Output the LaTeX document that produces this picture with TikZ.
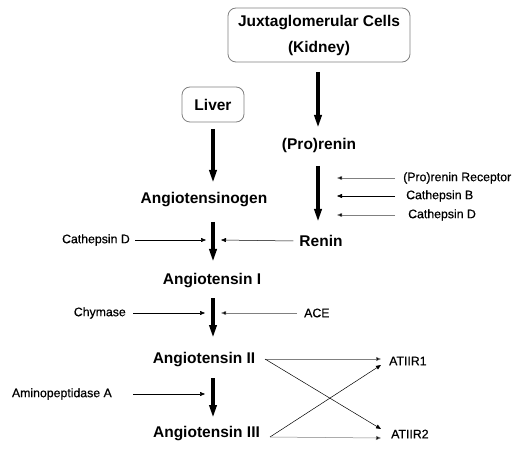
\documentclass[tikz,border=0pt]{standalone}
\usepackage{fontspec}
\setmainfont{Liberation Sans}
\newfontfamily\labelfont[FakeBold=0.6]{Liberation Sans}
\usetikzlibrary{arrows.meta}
\begin{document}
\begin{tikzpicture}[x=1pt,y=-1pt,
  big/.style={font=\fontsize{15.5}{18}\selectfont\bfseries, inner sep=0pt},
  small/.style={font=\labelfont\fontsize{12.3}{14}\selectfont, inner sep=0pt},
  srcbox/.style={draw=gray, rounded corners=8pt, line width=0.8pt},
  mainarrow/.style={line width=3.6pt, -{Triangle[width=7pt,length=13pt]}},
  enz/.style={line width=0.5pt, -{Triangle[width=4pt,length=5pt]}},
  enzg/.style={enz, draw=gray, -{Triangle[width=4pt,length=5pt,fill=black]}}]
\useasboundingbox (0,0) rectangle (519,454);
% source boxes
\node[srcbox, align=center, minimum width=182pt, minimum height=54pt,
      font=\fontsize{15.5}{26}\selectfont\bfseries] (jg) at (319,35) {Juxtaglomerular Cells\\(Kidney)};
\node[srcbox, big, minimum width=62pt, minimum height=35pt] (liver) at (213,104.5) {Liver};
% substances
\node[big] (prorenin) at (319,145) {(Pro)renin};
\node[big] (renin) at (321,241) {Renin};
\node[big] (agt) at (204,200) {Angiotensinogen};
\node[big] (ang1) at (212,281) {Angiotensin I};
\node[big] (ang2) at (204,360) {Angiotensin II};
\node[big] (ang3) at (206.5,434) {Angiotensin III};
\node[small, anchor=west] (at1) at (389,361) {ATIIR1};
\node[small, anchor=west] (at2) at (391,434) {ATIIR2};
% enzymes
\node[small, anchor=west] (prr) at (403,178) {(Pro)renin Receptor};
\node[small, anchor=west] (catB) at (406,196) {Cathepsin B};
\node[small, anchor=west] (catDr) at (408,215) {Cathepsin D};
\node[small, anchor=east] (catDl) at (130,240) {Cathepsin D};
\node[small, anchor=east] (chym) at (126,313) {Chymase};
\node[small, anchor=west] (ace) at (304,313) {ACE};
\node[small, anchor=east] (amino) at (112,394) {Aminopeptidase A};
% arrow end points
\coordinate (k1) at (318,72);  \coordinate (k2) at (318,128);
\coordinate (p1) at (318,166); \coordinate (p2) at (318,222);
\coordinate (l1) at (213,129); \coordinate (l2) at (213,183);
\coordinate (g1) at (213,222); \coordinate (g2) at (213,262);
\coordinate (i1) at (213,298); \coordinate (i2) at (213,338);
\coordinate (j1) at (213,378); \coordinate (j2) at (213,418);
% main arrows
\draw[mainarrow] (k1) -- (k2);
\draw[mainarrow] (p1) -- (p2);
\draw[mainarrow] (l1) -- (l2);
\draw[mainarrow] (g1) -- (g2);
\draw[mainarrow] (i1) -- (i2);
\draw[mainarrow] (j1) -- (j2);
% enzyme arrows
\coordinate (e1) at (337,178); \coordinate (e2) at (337,196); \coordinate (e3) at (337,215);
\draw[enzg] (prr.west) ++(-8,0) -- (e1);
\draw[enz] (catB.west) ++(-11,0) -- (e2);
\draw[enzg] (catDr.west) ++(-13,0) -- (e3);
\coordinate (e4) at (206,240); \coordinate (e5) at (221,240);
\draw[enz] (catDl.east) ++(5,0) -- (e4);
\draw[enz] (renin.west) ++(-6,0) -- (e5);
\coordinate (e6) at (205,313); \coordinate (e7) at (221,313);
\draw[enz] (chym.east) ++(7,0) -- (e6);
\draw[enzg] (ace.west) ++(-7,0) -- (e7);
\coordinate (e8) at (205,394);
\draw[enz] (amino.east) ++(21,0) -- (e8);
% receptor arrows
\coordinate (r1) at (265,359); \coordinate (r2) at (270,437);
\coordinate (t1a) at (381,359); \coordinate (t1b) at (381,365);
\coordinate (t2a) at (381,429); \coordinate (t2b) at (381,438);
\draw[enzg] (r1) -- (t1a);
\draw[enz] (r1) -- (t2a);
\draw[enz] (r2) -- (t1b);
\draw[enzg] (r2) -- (t2b);
\end{tikzpicture}
\end{document}
